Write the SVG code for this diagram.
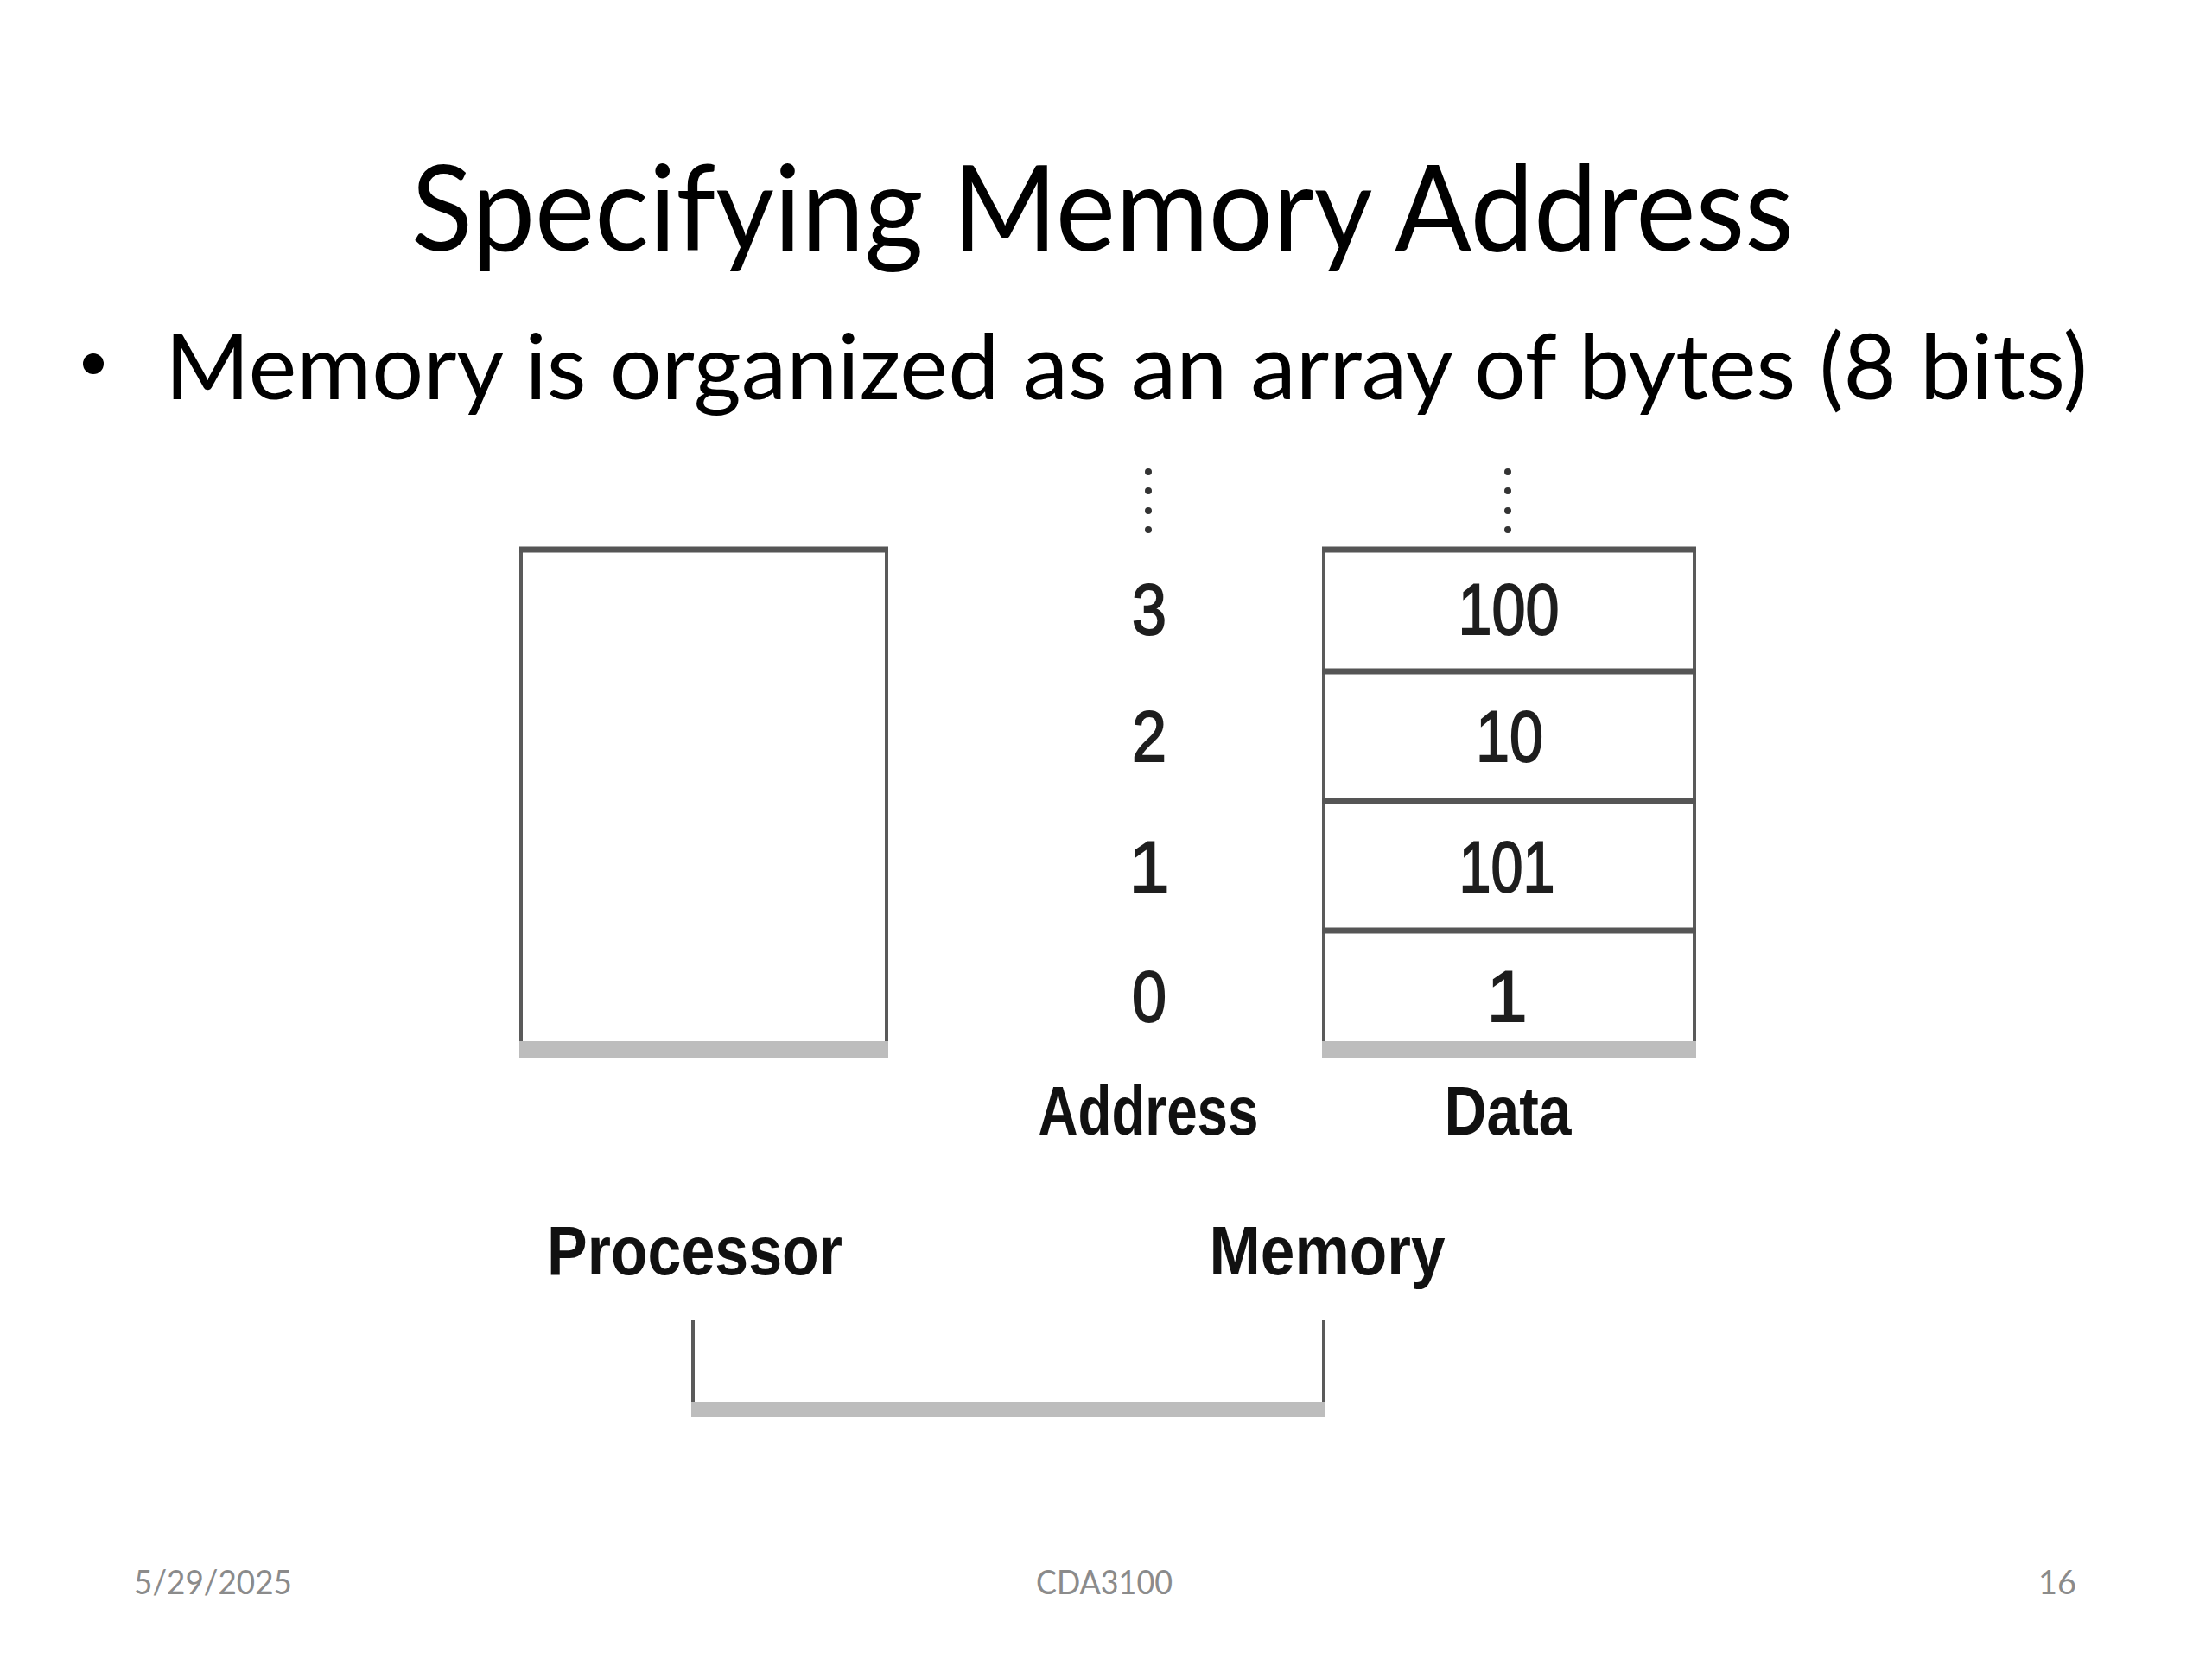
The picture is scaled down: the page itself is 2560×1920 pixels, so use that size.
<svg xmlns="http://www.w3.org/2000/svg" width="2560" height="1920" viewBox="0 0 2560 1920">
<style>
.slide{font-family:Lato,"Open Sans","Liberation Sans",sans-serif;fill:#000}
.foot{font-family:Lato,"Open Sans","Liberation Sans",sans-serif;fill:#8b8b8b;font-size:38px}
.num{font-family:"Liberation Sans",Arial,sans-serif;font-size:84px;fill:#1e1e1e;stroke:#1e1e1e;stroke-width:2;text-anchor:middle}
.lbl{font-family:"Liberation Sans",Arial,sans-serif;font-weight:bold;font-size:80px;fill:#111;text-anchor:middle}
.edge{stroke:#5a5a5a;stroke-width:4;fill:none}
.topedge{stroke:#555;stroke-width:7;fill:none}
.band{fill:#bdbdbd}
.dot{fill:#333}
</style>
<rect width="2560" height="1920" fill="#fff"/>
<g id="title">
<text class="slide" x="476" y="290" font-size="137" textLength="1600" lengthAdjust="spacingAndGlyphs">Specifying Memory Address</text>
</g>
<g id="bullet">
<circle cx="108" cy="421" r="12" fill="#000"/>
<text class="slide" x="191" y="462" font-size="105" textLength="2225" lengthAdjust="spacingAndGlyphs">Memory is organized as an array of bytes (8 bits)</text>
</g>
<g id="processor">
<line class="edge" x1="603" y1="636" x2="603" y2="1212"/>
<line class="edge" x1="1026" y1="636" x2="1026" y2="1212"/>
<line class="topedge" x1="601" y1="636" x2="1028" y2="636"/>
<rect class="band" x="601" y="1205" width="427" height="19"/>
</g>
<g id="memory-array">
<line class="edge" x1="1532" y1="636" x2="1532" y2="1212"/>
<line class="edge" x1="1961" y1="636" x2="1961" y2="1212"/>
<line class="topedge" x1="1530" y1="636" x2="1963" y2="636"/>
<line class="topedge" x1="1530" y1="777" x2="1963" y2="777"/>
<line class="topedge" x1="1530" y1="927" x2="1963" y2="927"/>
<line class="topedge" x1="1530" y1="1077" x2="1963" y2="1077"/>
<rect class="band" x="1530" y="1205" width="433" height="19"/>
<g id="data-dots">
<circle class="dot" cx="1745" cy="546" r="4"/>
<circle class="dot" cx="1745" cy="568" r="4"/>
<circle class="dot" cx="1745" cy="591" r="4"/>
<circle class="dot" cx="1745" cy="613" r="4"/>
</g>
<text class="num" x="1746" y="734" textLength="117" lengthAdjust="spacingAndGlyphs">100</text>
<text class="num" x="1747" y="881" textLength="78" lengthAdjust="spacingAndGlyphs">10</text>
<text class="num" x="1744" y="1032" textLength="111" lengthAdjust="spacingAndGlyphs">101</text>
<text class="num" x="1744" y="1182">1</text>
<text class="lbl" x="1745" y="1313" font-size="78" textLength="147" lengthAdjust="spacingAndGlyphs">Data</text>
</g>
<g id="addresses">
<circle class="dot" cx="1329" cy="546" r="4"/>
<circle class="dot" cx="1329" cy="568" r="4"/>
<circle class="dot" cx="1329" cy="591" r="4"/>
<circle class="dot" cx="1329" cy="613" r="4"/>
<text class="num" x="1330" y="734" textLength="40" lengthAdjust="spacingAndGlyphs">3</text>
<text class="num" x="1330" y="881" textLength="40" lengthAdjust="spacingAndGlyphs">2</text>
<text class="num" x="1330" y="1032">1</text>
<text class="num" x="1330" y="1182" textLength="40" lengthAdjust="spacingAndGlyphs">0</text>
<text class="lbl" x="1329" y="1313" font-size="78" textLength="255" lengthAdjust="spacingAndGlyphs">Address</text>
</g>
<g id="processor-label">
<text class="lbl" x="804" y="1475" textLength="342" lengthAdjust="spacingAndGlyphs">Processor</text>
</g>
<g id="memory-label">
<text class="lbl" x="1536" y="1475" textLength="273" lengthAdjust="spacingAndGlyphs">Memory</text>
</g>
<g id="connectors">
<line class="edge" x1="802" y1="1528" x2="802" y2="1640"/>
<line class="edge" x1="1532" y1="1528" x2="1532" y2="1640"/>
<rect class="band" x="800" y="1622" width="734" height="18"/>
</g>
<g id="footer">
<text class="foot" x="155" y="1845" textLength="183" lengthAdjust="spacingAndGlyphs">5/29/2025</text>
<text class="foot" x="1278" y="1845" text-anchor="middle" textLength="158" lengthAdjust="spacingAndGlyphs">CDA3100</text>
<text class="foot" x="2403" y="1845" text-anchor="end">16</text>
</g>
</svg>
